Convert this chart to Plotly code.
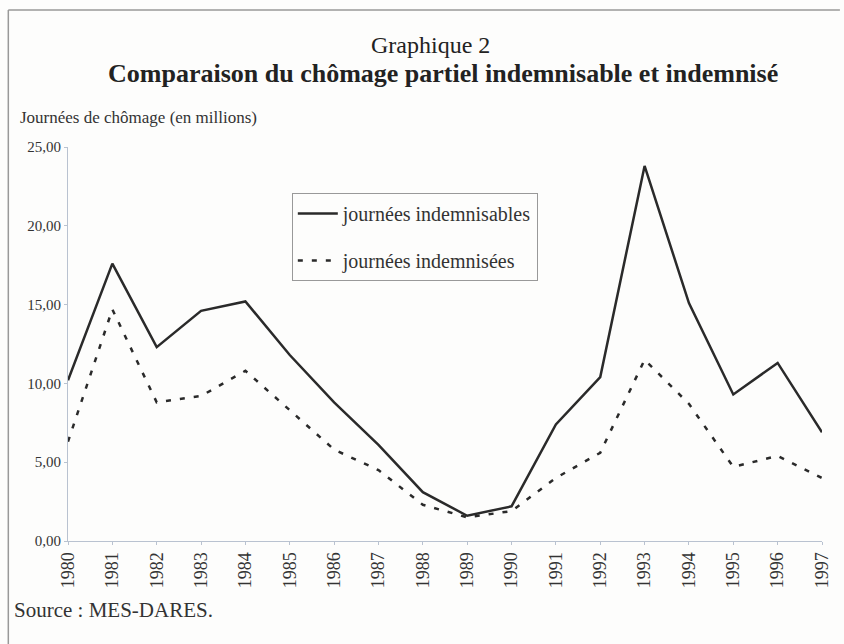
import plotly.graph_objects as go

years = [str(y) for y in range(1980, 1998)]
indemnisables = [10.2, 17.6, 12.3, 14.6, 15.2, 11.8, 8.8, 6.1, 3.1, 1.6, 2.2, 7.4, 10.4, 23.8, 15.1, 9.3, 11.3, 6.9]
indemnisees = [6.3, 14.7, 8.8, 9.2, 10.8, 8.3, 5.8, 4.5, 2.3, 1.5, 1.9, 4.0, 5.6, 11.5, 8.7, 4.7, 5.4, 4.0]
y_ticks = [0, 5, 10, 15, 20, 25]
y_tick_labels = ["0,00", "5,00", "10,00", "15,00", "20,00", "25,00"]

SERIF = "Liberation Serif, Times New Roman, serif"

W, H = 844, 644
L, R, T, B = 68, 18, 147, 103
pw, ph = W - L - R, H - T - B


def px_x(v):
    return (v - L) / pw


def px_y(v):
    return (H - v - B) / ph


fig = go.Figure()
fig.add_trace(go.Scatter(
    x=years, y=indemnisables, mode="lines", name="journées indemnisables",
    line=dict(color="#2a2a2a", width=2.5), legendgroup="a"))
fig.add_trace(go.Scatter(
    x=years, y=indemnisees, mode="lines", name="journées indemnisées",
    line=dict(color="#2a2a2a", width=2.5, dash="5px,9px"), legendgroup="b"))

fig.update_layout(
    width=W, height=H,
    margin=dict(l=L, r=R, t=T, b=B),
    paper_bgcolor="#fdfdfc", plot_bgcolor="#fdfdfc",
    font=dict(family=SERIF, color="#333"),
    showlegend=True,
    legend=dict(
        x=px_x(293), y=px_y(193),
        xanchor="left", yanchor="top",
        bordercolor="#999", borderwidth=1, bgcolor="rgba(0,0,0,0)",
        font=dict(family=SERIF, size=20, color="#333"),
        tracegroupgap=18, itemwidth=40,
    ),
    xaxis=dict(
        type="category", range=[0, len(years) - 1],
        showgrid=False, zeroline=False,
        showline=True, linecolor="#b9c2d0", linewidth=1,
        ticks="outside", ticklen=3, tickcolor="#b9c2d0",
        tickangle=-90, tickfont=dict(family=SERIF, size=18, color="#333"),
    ),
    yaxis=dict(
        range=[0, 25], tickvals=y_ticks, ticktext=y_tick_labels,
        showgrid=False, zeroline=False,
        showline=True, linecolor="#b9c2d0", linewidth=1,
        ticks="outside", ticklen=3, tickcolor="#b9c2d0",
        tickfont=dict(family=SERIF, size=15, color="#333"),
    ),
    annotations=[
        dict(text="Graphique 2", x=px_x(W / 2 + 10), y=px_y(45), xref="paper", yref="paper",
             yanchor="middle",
             showarrow=False, font=dict(family=SERIF, size=24, color="#222")),
        dict(text="<b>Comparaison du chômage partiel indemnisable et indemnisé</b>",
             x=px_x(W / 2 + 23), y=px_y(73), xref="paper", yref="paper",
             yanchor="middle",
             showarrow=False, font=dict(family=SERIF, size=26, color="#222")),
        dict(text="Journées de chômage (en millions)", x=px_x(18), y=px_y(118),
             xref="paper", yref="paper", yanchor="middle",
             showarrow=False, xanchor="left", font=dict(family=SERIF, size=17, color="#333")),
        dict(text="Source : MES-DARES.", x=px_x(12), y=px_y(610),
             xref="paper", yref="paper", yanchor="middle",
             showarrow=False, xanchor="left", font=dict(family=SERIF, size=21, color="#333")),
    ],
    shapes=[
        dict(type="line", xref="paper", yref="paper",
             x0=px_x(8), x1=px_x(8), y0=px_y(10), y1=px_y(644),
             line=dict(color="#999", width=1.5)),
        dict(type="line", xref="paper", yref="paper",
             x0=px_x(8), x1=px_x(844), y0=px_y(10), y1=px_y(10),
             line=dict(color="#999", width=1.5)),
    ],
)

fig.write_html("out.html", config={"displayModeBar": False},
               post_script="document.body.style.margin='0';document.body.style.overflow='hidden';")
